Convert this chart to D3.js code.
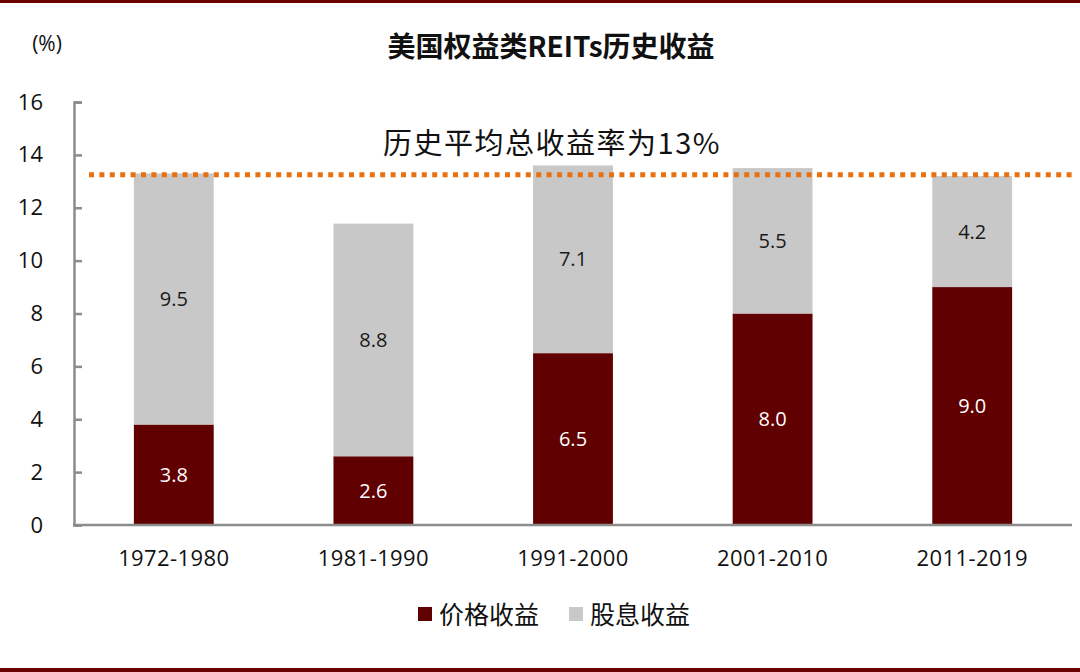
<!DOCTYPE html>
<html>
<head>
<meta charset="utf-8">
<script src="https://d3js.org/d3.v7.min.js"></script>
<style>
  body { margin: 0; background: #fff; }
  svg { display: block; }
</style>
</head>
<body>
<script>
// data
var periods = ["1972-1980", "1981-1990", "1991-2000", "2001-2010", "2011-2019"];
var priceReturn = [3.8, 2.6, 6.5, 8.0, 9.0];
var dividendReturn = [9.5, 8.8, 7.1, 5.5, 4.2];
var yTicks = [0, 2, 4, 6, 8, 10, 12, 14, 16];
var avgLine = 13.25;
var seriesNames = ["价格收益", "股息收益"];

var w = 1080, h = 672;
var plotLeft = 74, plotRight = 1072, plotTop = 102, plotBottom = 525;
var cjk = "'Noto Sans CJK SC', sans-serif";
var lat = "'Open Sans', 'Noto Sans', sans-serif";

var colors = ["#600000", "#C8C8C8"];

var svg = d3.select("body").append("svg")
  .attr("width", w)
  .attr("height", h);

// top and bottom frame lines
svg.append("rect").attr("x", 0).attr("y", 0).attr("width", w).attr("height", 3).attr("fill", "#6b0000");
svg.append("rect").attr("x", 0).attr("y", 668).attr("width", w).attr("height", 4).attr("fill", "#6b0000");

var x = d3.scaleBand()
  .domain(periods)
  .range([plotLeft, plotRight])
  .paddingInner(0.6)
  .paddingOuter(0.3);

var y = d3.scaleLinear()
  .domain([0, 16])
  .range([plotBottom, plotTop]);

var rows = periods.map(function(p, i) {
  return { period: p, price: priceReturn[i], div: dividendReturn[i] };
});

// stacked bars
var g = svg.append("g");
g.selectAll("rect.price")
  .data(rows)
  .enter().append("rect")
    .attr("class", "price")
    .attr("x", function(d) { return x(d.period); })
    .attr("y", function(d) { return y(d.price); })
    .attr("width", x.bandwidth())
    .attr("height", function(d) { return y(0) - y(d.price); })
    .attr("fill", colors[0]);

g.selectAll("rect.div")
  .data(rows)
  .enter().append("rect")
    .attr("class", "div")
    .attr("x", function(d) { return x(d.period); })
    .attr("y", function(d) { return y(d.price + d.div); })
    .attr("width", x.bandwidth())
    .attr("height", function(d) { return y(d.price) - y(d.price + d.div); })
    .attr("fill", colors[1]);

// labels inside bars
g.selectAll("text.price")
  .data(rows)
  .enter().append("text")
    .attr("x", function(d) { return x(d.period) + x.bandwidth() / 2; })
    .attr("y", function(d) { return y(d.price / 2); })
    .attr("dy", "0.35em")
    .attr("text-anchor", "middle")
    .attr("font-family", lat)
    .attr("font-size", 20)
    .attr("fill", "#fff")
    .text(function(d) { return d.price.toFixed(1); });

g.selectAll("text.div")
  .data(rows)
  .enter().append("text")
    .attr("x", function(d) { return x(d.period) + x.bandwidth() / 2; })
    .attr("y", function(d) { return y(d.price + d.div / 2); })
    .attr("dy", "0.35em")
    .attr("text-anchor", "middle")
    .attr("font-family", lat)
    .attr("font-size", 20)
    .attr("fill", "#1a1a1a")
    .text(function(d) { return d.div.toFixed(1); });

// axes
var yAxis = svg.append("g")
  .attr("transform", "translate(" + plotLeft + ",0)")
  .call(d3.axisRight(y).tickValues(yTicks).tickSize(8).tickFormat(d3.format("d")));
yAxis.select(".domain").attr("stroke", "#8c8c8c").attr("stroke-width", 2.5);
yAxis.selectAll(".tick line").attr("stroke", "#8c8c8c").attr("stroke-width", 2.5);
yAxis.selectAll(".tick text")
  .attr("x", -31)
  .attr("text-anchor", "end")
  .attr("font-family", lat)
  .attr("font-size", 22)
  .attr("fill", "#111");

var xAxis = svg.append("g")
  .attr("transform", "translate(0," + plotBottom + ")")
  .call(d3.axisBottom(x).tickSize(0).tickPadding(25));
xAxis.select(".domain").attr("stroke", "#8c8c8c").attr("stroke-width", 2.5)
  .attr("d", "M" + (plotLeft - 1) + ",0H" + plotRight);
xAxis.selectAll(".tick text")
  .attr("font-family", lat)
  .attr("font-size", 22)
  .attr("letter-spacing", 0.4)
  .attr("fill", "#111");

// average line
svg.append("line")
  .attr("x1", 89)
  .attr("x2", plotRight)
  .attr("y1", y(avgLine))
  .attr("y2", y(avgLine))
  .attr("stroke", "#E8700F")
  .attr("stroke-width", 5)
  .attr("stroke-dasharray", "5,5.4");

svg.append("text")
  .attr("x", 552)
  .attr("y", 154)
  .attr("text-anchor", "middle")
  .attr("font-family", cjk)
  .attr("font-size", 29)
  .attr("letter-spacing", 1.5)
  .attr("fill", "#111")
  .text("历史平均总收益率为13%");

// title and unit
svg.append("text")
  .attr("x", 551)
  .attr("y", 57)
  .attr("text-anchor", "middle")
  .attr("font-family", cjk)
  .attr("font-weight", "bold")
  .attr("font-size", 28)
  .attr("fill", "#111")
  .text("美国权益类REITs历史收益");

svg.append("text")
  .attr("x", 47)
  .attr("y", 51)
  .attr("text-anchor", "middle")
  .attr("font-family", lat)
  .attr("font-size", 21)
  .attr("fill", "#111")
  .text("(%)");

// legend
var legendX = [418, 569];
var legend = svg.append("g")
  .selectAll("g")
  .data(seriesNames)
  .enter().append("g")
    .attr("transform", function(d, i) { return "translate(" + legendX[i] + ",607)"; });

legend.append("rect")
  .attr("width", 14)
  .attr("height", 14)
  .attr("fill", function(d, i) { return colors[i]; });

legend.append("text")
  .attr("x", 21)
  .attr("y", 7)
  .attr("dy", "0.38em")
  .attr("font-family", cjk)
  .attr("font-size", 25)
  .attr("fill", "#111")
  .text(function(d) { return d; });
</script>
</body>
</html>
